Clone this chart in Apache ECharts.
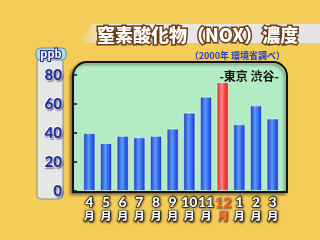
<!DOCTYPE html>
<html><head><meta charset="utf-8">
<style>html,body{margin:0;padding:0;background:#f3cd58;}#c{width:320px;height:240px;}</style>
<script src="https://cdn.jsdelivr.net/npm/echarts@6/dist/echarts.min.js"></script>
</head><body><div id="c"></div>
<script>
const categories = ['4月','5月','6月','7月','8月','9月','10月','11月','12月','1月','2月','3月'];
const values = [40, 33, 38, 37, 38, 43, 54, 65, 75, 46, 59, 50];
const highlight = '12月';
const yTicks = [0, 20, 40, 60, 80];
const titleText = '窒素酸化物（NOX）濃度';
const subtitleText = '（2000年 環境省調べ）';
const placeText = '-東京 渋谷-';
const unitText = 'ppb';

const FONT = '"Noto Sans CJK JP", "DejaVu Sans", sans-serif';
const DIG = 'Lato, "Noto Sans CJK JP", sans-serif';
const blueGrad = new echarts.graphic.LinearGradient(0,0,1,0,[
  {offset:0,color:'#1630c0'},{offset:0.45,color:'#5a9cff'},{offset:0.6,color:'#3d7af0'},{offset:1,color:'#1630c0'}]);
const redGrad = new echarts.graphic.LinearGradient(0,0,1,0,[
  {offset:0,color:'#d82020'},{offset:0.45,color:'#ff8a8a'},{offset:0.6,color:'#f05050'},{offset:1,color:'#d82020'}]);

const outW = {color:'#ffffff',textBorderColor:'#000',textBorderWidth:1,textShadowColor:'#000',textShadowBlur:2.5,textShadowOffsetX:0.5,textShadowOffsetY:0.5};
const outR = {color:'#ff6a10',textBorderColor:'#fff',textBorderWidth:0.8,textShadowColor:'rgba(60,30,0,0.8)',textShadowBlur:2,textShadowOffsetX:1,textShadowOffsetY:1};

const chart = echarts.init(document.getElementById('c'), null, {renderer:'canvas'});
chart.setOption({
  backgroundColor:'#f3cd58',
  animation:false,
  title:[
    {text:titleText, left:92, top:21, textStyle:{fontFamily:FONT,fontSize:18,fontWeight:900,color:'#ffffff',textBorderColor:'#6a3c12',textBorderWidth:3}},
    {text:subtitleText, right:30, top:46, textStyle:{fontFamily:FONT,fontSize:9,fontWeight:'bold',color:'#1a3cc8'}},
    {text:placeText, right:36, top:65, textStyle:{fontFamily:FONT,fontSize:12,fontWeight:'bold',color:'#111111'}}
  ],
  graphic:[
    {type:'polygon', z:-10, shape:{points:[[92,24],[320,24],[320,43],[78,43]]},
      style:{fill:new echarts.graphic.LinearGradient(0,0,1,0,[{offset:0,color:'rgba(235,235,235,0)'},{offset:0.12,color:'#e8e8e8'},{offset:1,color:'#e4e4e4'}])}},
    {type:'rect', z:-10, shape:{x:37,y:58,width:26,height:141,r:4}, style:{fill:'#e6e6e6',stroke:'#8a8a8a',lineWidth:1}},
    {type:'rect', z:-9, shape:{x:36,y:48,width:30,height:12,r:4}, style:{fill:'#a6e0ee',stroke:'#7a8a90',lineWidth:1}},
    {type:'text', z:-8, style:{x:51,y:54,text:unitText,align:'center',verticalAlign:'middle',font:'bold 11px '+FONT,fill:'#ffffff',stroke:'#1a2a80',lineWidth:2}},
    {type:'rect', z:-10, shape:{x:73,y:62,width:214,height:130,r:[14,14,0,0]},
      style:{fill:'#b2ecc4',stroke:'#111111',lineWidth:2,shadowBlur:3,shadowColor:'rgba(0,0,0,0.4)',shadowOffsetX:-2,shadowOffsetY:2}}
  ],
  grid:{left:81,right:39,top:75,bottom:49},
  xAxis:{type:'category', data:categories,
    axisLine:{show:false}, axisTick:{show:false},
    axisLabel:{interval:0, margin:4,
      formatter:v=>{const n=v.slice(0,-1),u=v.slice(-1);return v===highlight?`{r|${n}}\n{ru|${u}}`:`{n|${n}}\n{u|${u}}`;},
      rich:{
        n:Object.assign({fontFamily:DIG,fontSize:14,fontWeight:900,lineHeight:14,letterSpacing:-1},outW),
        u:Object.assign({fontFamily:FONT,fontSize:11,fontWeight:900,lineHeight:14},outW),
        r:Object.assign({fontFamily:DIG,fontSize:14,fontWeight:900,lineHeight:14,letterSpacing:-1},outR),
        ru:Object.assign({fontFamily:FONT,fontSize:11,fontWeight:900,lineHeight:14},outR)
      }}},
  yAxis:{type:'value', min:yTicks[0], max:yTicks[yTicks.length-1], interval:yTicks[1]-yTicks[0], offset:8,
    splitLine:{show:false},
    axisLine:{show:false},
    axisTick:{show:true, inside:true, length:4, lineStyle:{color:'#111',width:1.5}},
    axisLabel:{margin:11, fontFamily:DIG, fontSize:15, fontWeight:900, color:'#1e2ea8', textBorderColor:'#ffffff', textBorderWidth:2,
      textShadowColor:'rgba(0,0,0,0.35)', textShadowOffsetX:1, textShadowOffsetY:1, textShadowBlur:1}},
  series:[{type:'bar', barWidth:12, z:5,
    data:values.map((v,i)=>({value:v, itemStyle:{color: categories[i]===highlight?redGrad:blueGrad, borderColor:'rgba(255,255,255,0.7)', borderWidth:0.8}}))
  }]
});
</script></body></html>
